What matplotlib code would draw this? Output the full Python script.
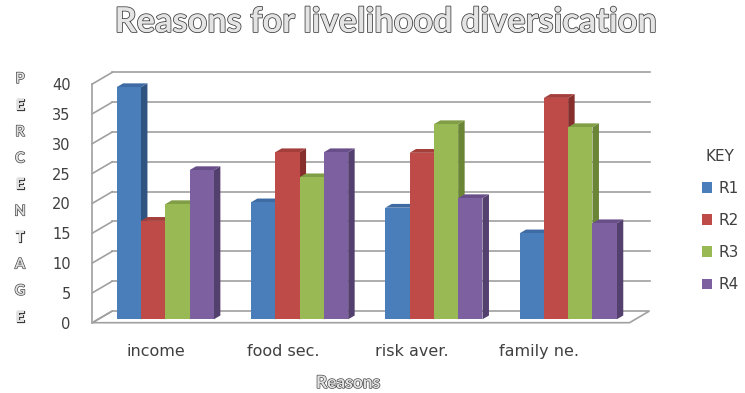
import matplotlib
matplotlib.use("Agg")
import matplotlib.pyplot as plt
import matplotlib.patheffects as pe
from matplotlib.patches import Polygon, Patch
import numpy as np

categories = ["income", "food sec.", "risk aver.", "family ne."]
series_names = ["R1", "R2", "R3", "R4"]
R1 = [38.9, 19.6, 18.7, 14.4]
R2 = [16.5, 28.0, 27.9, 37.1]
R3 = [19.3, 23.8, 32.7, 32.2]
R4 = [25.0, 28.0, 20.3, 16.1]
series = [R1, R2, R3, R4]
yticks = [0, 5, 10, 15, 20, 25, 30, 35, 40]

front_cols = ["#4A7EBB", "#BE4B48", "#98B954", "#7D60A0"]
side_cols = ["#2F5482", "#872F2D", "#6B8537", "#54406F"]
top_cols = ["#3E6BA3", "#A33E3B", "#809E45", "#694F8A"]

W, H = 745, 393
fig = plt.figure(figsize=(W / 100, H / 100), dpi=100)
fig.patch.set_facecolor("white")

# front plane of the 3D box in pixels
left_px, right_px, bot_px, top_px = 92.3, 629.5, 322.7, 84.0
ax = fig.add_axes([left_px / W, 1 - bot_px / H, (right_px - left_px) / W, (bot_px - top_px) / H])
ax.set_xlim(-0.5, 3.5)
ax.set_ylim(0, 40)
for s in ax.spines.values():
    s.set_visible(False)

pxx = (right_px - left_px) / 4.0   # px per x unit
pxy = (bot_px - top_px) / 40.0     # px per y unit

def off(px_dx, px_dy):
    return px_dx / pxx, px_dy / pxy

# depth of the box
Dx, Dy = off(20, 11.7)
grid_c = "#A0A0A0"
lw = 1.2
x0, x1 = -0.5, 3.5
floor = Polygon([(x0, 0), (x1, 0), (x1 + Dx, Dy), (x0 + Dx, Dy)], closed=True,
                facecolor="white", edgecolor=grid_c, lw=lw, zorder=0, clip_on=False)
ax.add_patch(floor)
ax.plot([x0, x0], [0, 40], color=grid_c, lw=lw, zorder=0, clip_on=False)
for t in yticks:
    ax.plot([x0, x0 + Dx], [t, t + Dy], color=grid_c, lw=lw, zorder=0, clip_on=False)
    if t > 0:
        ax.plot([x0 + Dx, x1 + Dx], [t + Dy, t + Dy], color=grid_c, lw=lw, zorder=0, clip_on=False)

# bars
bfx, bfy = off(5.8, 3.4)   # bar front offset
bdx, bdy = off(6.5, 3.8)   # bar depth
group_w = 0.724
bw = group_w / 4
for ci in range(len(categories)):
    for si, vals in enumerate(series):
        v = vals[ci]
        xl = ci - group_w / 2 + si * bw + bfx
        xr = xl + bw
        yb = bfy
        yt = v + bfy
        side = Polygon([(xr, yb), (xr + bdx, yb + bdy), (xr + bdx, yt + bdy), (xr, yt)],
                       closed=True, facecolor=side_cols[si], edgecolor="none", zorder=2, clip_on=False)
        top = Polygon([(xl, yt), (xr, yt), (xr + bdx, yt + bdy), (xl + bdx, yt + bdy)],
                      closed=True, facecolor=top_cols[si], edgecolor="none", zorder=2, clip_on=False)
        ax.add_patch(side)
        ax.add_patch(top)
        ax.bar(xl, v, width=bw, bottom=bfy, align="edge", color=front_cols[si],
               edgecolor="none", zorder=2, clip_on=False)

ax.set_yticks(yticks)
ax.set_yticklabels([str(t) for t in yticks])
ax.tick_params(axis="y", length=0, pad=15.5, labelsize=10.5, labelcolor="#404040")
label_pos = [-0.03 + 0.953 * i for i in range(len(categories))]
ax.set_xticks(label_pos)
ax.set_xticklabels(categories)
ax.tick_params(axis="x", length=0, pad=15, labelsize=11.5, labelcolor="#404040")

title = fig.text(386 / W, 1 - 22 / H, "Reasons for livelihood diversication", ha="center", va="center",
                 fontsize=22, fontweight="bold", family="Lato", color="#e4e4e4",
                 path_effects=[pe.Stroke(linewidth=1.1, foreground="#3a3a3a"), pe.Normal()])
# fit title width to the reference (~542 px)
r = fig.canvas.get_renderer()
tw = title.get_window_extent(r).width
title.set_fontsize(22 * 542 / tw)

fig.text(348 / W, 1 - 383 / H, "Reasons", ha="center", va="center", fontsize=12.5,
         fontweight="bold", family="Lato", color="#e0e0e0",
         path_effects=[pe.Stroke(linewidth=0.9, foreground="#3a3a3a"), pe.Normal()])
for i, ch in enumerate("PERCENTAGE"):
    fig.text(20 / W, 1 - (79 + 26.5 * i) / H, ch, ha="center", va="center", fontsize=10.5,
             fontweight="bold", family="Lato", color="#e0e0e0",
             path_effects=[pe.Stroke(linewidth=0.9, foreground="#3a3a3a"), pe.Normal()])

handles = [Patch(facecolor=c, edgecolor="none") for c in front_cols]
leg = fig.legend(handles, series_names, title="KEY", loc="upper left",
                 bbox_to_anchor=(688 / W, 1 - 135 / H), frameon=False, fontsize=11,
                 title_fontsize=11, handlelength=0.7, handleheight=0.7, labelspacing=1.12,
                 handletextpad=0.4, labelcolor="#404040")
leg.get_title().set_color("#404040")

fig.savefig("out.png", dpi=100, facecolor="white")
